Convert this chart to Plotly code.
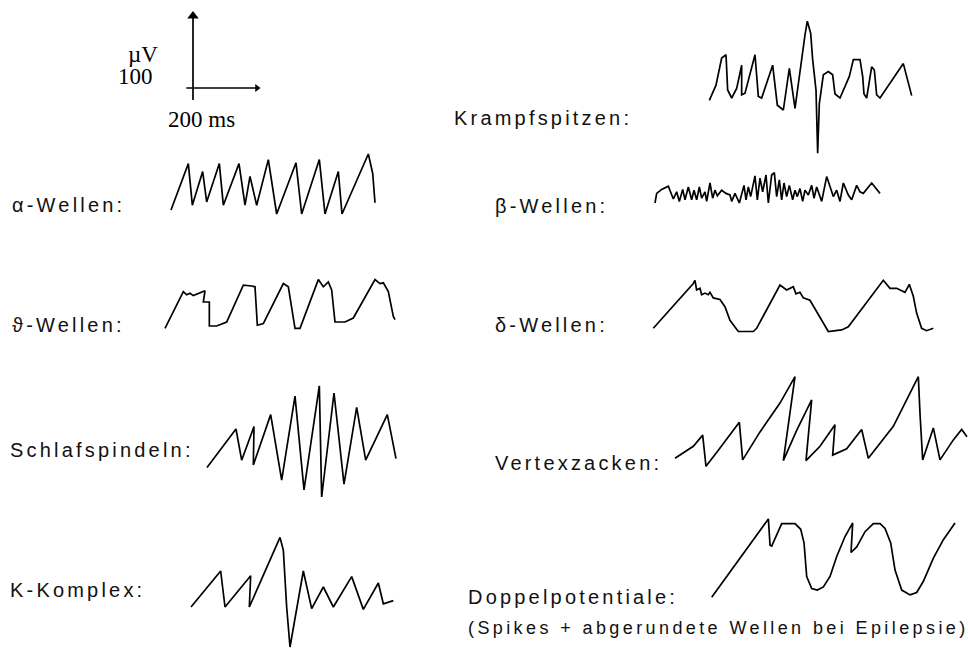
import plotly.graph_objects as go

W, H = 968, 648
PX_PER_MS = 1 / 3      # horizontal drawing scale
PX_PER_UV = 0.8        # vertical drawing scale

# ---- scale bar values ----
SCALE_MS = 200
SCALE_UV = 100

# ---- wave data: time in ms, amplitude in µV ----
alpha_t = [0, 52, 64, 95, 107, 145, 157, 204, 222, 237, 257, 292, 317, 375, 392, 445, 462, 502, 513, 592, 605, 612]
alpha_v = [0, 58, 6, 48, 10, 58, 6, 58, 6, 42, 6, 63, -5, 59, -5, 63, -5, 48, -5, 70, 46, 9]

theta_t = [0, 55, 65, 75, 85, 95, 105, 115, 120, 115, 133, 133, 155, 185, 235, 260, 270, 277, 295, 355,
           370, 390, 405, 460, 475, 490, 500, 510, 540, 565, 630, 645, 655, 670, 685, 690]
theta_v = [-3, 43, 39, 41, 38, 40, 41, 44, 44, 30, 30, 0, 0, 5, 51, 50, 49, 1, 3, 53,
           49, -3, -3, 58, 49, 55, 45, 5, 5, 10, 58, 53, 54, 43, 12, 8]

spindle_t = [0, 87, 104, 141, 139, 191, 224, 264, 291, 337, 344, 381, 411, 449, 476, 541, 567]
spindle_v = [-3, 45, 6, 48, 0, 63, -19, 86, -31, 99, -40, 90, -24, 72, 6, 63, 8]

kcomplex_t = [0, 89, 102, 179, 175, 267, 277, 287, 297, 317, 337, 362, 397, 427, 482, 517, 562, 577, 607]
kcomplex_v = [0, 45, 0, 39, 0, 87, 71, 0, -50, -4, 45, -2, 25, 0, 38, -3, 30, 4, 8]

krampf_t = [1, 21, 38, 51, 56, 68, 83, 98, 98, 108, 138, 148, 158, 191, 205, 223, 241, 258, 288, 295, 305,
            311, 321, 326, 331, 343, 358, 371, 378, 393, 421, 433, 453, 461, 465, 473, 488, 496, 503, 513,
            583, 608]
krampf_v = [-3, 16, 50, 54, 10, 0, 12, 41, 4, 6, 54, 2, 0, 41, -9, -15, 37, -13, 79, 96, 81,
            48, 10, -69, -7, 29, 33, 29, 5, 0, 27, 48, 48, 27, 5, 0, 39, 35, 4, 0,
            43, 3]

beta_t = [0, 5, 20, 40, 55, 65, 73, 83, 90, 100, 110, 117, 125, 133, 140, 150, 155, 165, 173, 180,
          187, 200, 213, 225, 230, 240, 253, 267, 273, 280, 287, 300, 307, 315, 323, 333, 340, 350, 358,
          365, 373, 380, 387, 395, 403, 413, 420, 427, 435, 443, 450, 460, 470, 477, 485, 500, 515, 525,
          535, 545, 555, 565, 580, 590, 605, 615, 625, 650, 675]
beta_v = [0, 12, 17, 21, 5, 14, 2, 17, 4, 20, 4, 16, 4, 20, 6, 14, 2, 25, 6, 16,
          9, 16, 12, 10, 2, 12, 0, 22, 4, 20, 8, 34, 4, 31, 14, 35, 0, 35, 38,
          8, 29, 4, 25, 8, 22, 4, 16, 8, 18, 2, 16, 10, 22, 6, 20, 2, 33, 20,
          8, 16, 2, 25, 10, 4, 22, 14, 12, 25, 12]

delta_t = [0, 120, 125, 130, 140, 145, 155, 165, 170, 180, 200, 215, 230, 255, 300, 310, 380, 400, 420, 428,
           440, 450, 470, 490, 510, 525, 565, 585, 690, 710, 730, 755, 768, 780, 790, 805, 820, 840]
delta_v = [0, 56, 60, 48, 50, 42, 44, 42, 45, 38, 36, 27, 10, -4, -4, 0, 54, 48, 52, 43,
           45, 38, 35, 21, 6, -4, -2, 2, 60, 50, 50, 45, 55, 40, 19, 0, -3, 0]

vertex_t = [0, 55, 83, 93, 130, 193, 203, 255, 315, 360, 325, 365, 410, 393, 435, 480, 473, 515, 560, 580,
            655, 730, 735, 743, 775, 795, 835, 860, 876]
vertex_v = [0, 15, 29, -10, 10, 45, -2, 33, 69, 102, -3, 35, 73, -3, 15, 42, 4, 12, 36, 0,
            40, 102, 56, -2, 38, -2, 23, 36, 27]

doppel_t = [0, 170, 175, 180, 210, 250, 267, 277, 285, 300, 317, 335, 355, 375, 400, 423, 418, 435, 460, 485,
            505, 520, 537, 550, 570, 595, 615, 635, 665, 695, 730]
doppel_v = [0, 98, 65, 64, 92, 92, 85, 68, 26, 11, 9, 13, 26, 51, 76, 93, 56, 63, 82, 92,
            92, 86, 68, 34, 9, 3, 6, 20, 49, 72, 93]

# ---- labels ----
labels = ["Krampfspitzen:", "\u03b1-Wellen:", "\u03b2-Wellen:", "\u03d1-Wellen:", "\u03b4-Wellen:",
          "Schlafspindeln:", "Vertexzacken:", "K-Komplex:", "Doppelpotentiale:"]
note = "(Spikes + abgerundete Wellen bei Epilepsie)"
unit_v = "\u00b5V"
unit_v_val = "100"
unit_t = "200 ms"

# ---- layout (pixel positions of each drawing's origin) ----
wave_pos = [
    (alpha_t, alpha_v, 171, 210),
    (theta_t, theta_v, 165, 326),
    (spindle_t, spindle_v, 207, 465),
    (kcomplex_t, kcomplex_v, 191, 607),
    (krampf_t, krampf_v, 709, 98),
    (beta_t, beta_v, 655, 203),
    (delta_t, delta_v, 653.3, 328.3),
    (vertex_t, vertex_v, 675, 458.3),
    (doppel_t, doppel_v, 711.7, 597.3),
]
label_pos = [(452, 118), (10, 205), (493, 206), (10, 325), (493, 325),
             (8, 450), (493, 463), (8, 590), (466, 597)]
scale_origin = (193, 88)

fig = go.Figure()
LINE = dict(color="black", width=1.7)


def add_panel(idx, ox, oy, t0, t1, v0, v1):
    x0d = (ox + t0 * PX_PER_MS) / W
    x1d = (ox + t1 * PX_PER_MS) / W
    if x0d < 0:
        x0d, t0 = 0, -ox / PX_PER_MS
    if x1d > 1:
        x1d, t1 = 1, (W - ox) / PX_PER_MS
    yb = oy - v0 * PX_PER_UV
    yt = oy - v1 * PX_PER_UV
    if yb > H:
        yb, v0 = H, (oy - H) / PX_PER_UV
    if yt < 0:
        yt, v1 = 0, oy / PX_PER_UV
    y0d = 1 - yb / H
    y1d = 1 - yt / H
    sx = "" if idx == 1 else str(idx)
    fig.layout["xaxis" + sx] = dict(domain=[x0d, x1d], range=[t0, t1], visible=False,
                                    fixedrange=True, anchor="y" + sx)
    fig.layout["yaxis" + sx] = dict(domain=[y0d, y1d], range=[v0, v1], visible=False,
                                    fixedrange=True, anchor="x" + sx)
    return "x" + sx, "y" + sx


idx = 1
for t, v, ox, oy in wave_pos:
    xa, ya = add_panel(idx, ox, oy, min(t) - 15, max(t) + 15, min(v) - 15, max(v) + 15)
    fig.add_trace(go.Scatter(x=t, y=v, mode="lines", line=LINE, xaxis=xa, yaxis=ya,
                             hoverinfo="skip", showlegend=False))
    idx += 1

# scale bar
xa, ya = add_panel(idx, scale_origin[0], scale_origin[1], -40, SCALE_MS + 20, -25, SCALE_UV + 10)
fig.add_trace(go.Scatter(x=[0, 0], y=[-0.15 * SCALE_UV, SCALE_UV - 12], mode="lines", line=LINE,
                         xaxis=xa, yaxis=ya, hoverinfo="skip", showlegend=False))
fig.add_trace(go.Scatter(x=[-0.1 * SCALE_MS, SCALE_MS - 8], y=[0, 0], mode="lines", line=LINE,
                         xaxis=xa, yaxis=ya, hoverinfo="skip", showlegend=False))
fig.add_trace(go.Scatter(x=[0], y=[SCALE_UV - 10], mode="markers",
                         marker=dict(symbol="triangle-up", size=10, color="black"),
                         xaxis=xa, yaxis=ya, hoverinfo="skip", showlegend=False))
fig.add_trace(go.Scatter(x=[SCALE_MS - 8], y=[0], mode="markers",
                         marker=dict(symbol="triangle-right", size=7, color="black"),
                         xaxis=xa, yaxis=ya, hoverinfo="skip", showlegend=False))

SANS = dict(family="Liberation Sans, Arial, sans-serif", size=20, color="#111")
NOTE = dict(family="Liberation Sans, Arial, sans-serif", size=18, color="#111")
SERIF = dict(family="Liberation Serif", size=23, color="black")


def spaced(text, px):
    return '<span style="letter-spacing:%.1fpx">%s</span>' % (px, text)


def px_ann(text, x, y, font, xanchor="left"):
    fig.add_annotation(text=text, x=x / W, y=1 - y / H, xref="paper", yref="paper",
                       xanchor=xanchor, yanchor="middle", showarrow=False, font=font)


for txt, (x, y) in zip(labels, label_pos):
    px_ann(spaced(txt, 3.2), x, y, SANS)
px_ann(spaced(note, 3.4), 466, 628, NOTE)
px_ann(unit_v, 126, 54, SERIF)
px_ann(unit_v_val, 155, 77, SERIF, xanchor="right")
px_ann(unit_t, 166, 120, SERIF)

fig.update_layout(width=W, height=H, margin=dict(l=0, r=0, t=0, b=0),
                  paper_bgcolor="white", plot_bgcolor="white", showlegend=False)
fig.write_html("out.html", config={"displayModeBar": False, "staticPlot": True},
               post_script="document.body.style.margin='0px';")
